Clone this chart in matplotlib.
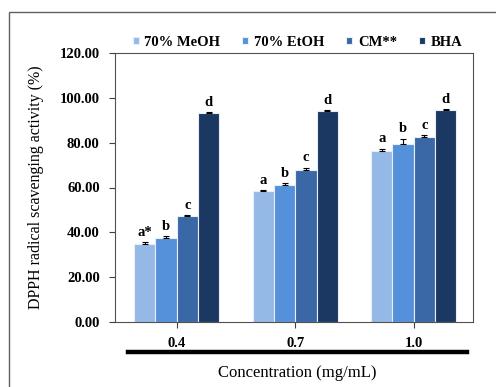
import numpy as np
import matplotlib
matplotlib.use("Agg")
import matplotlib.pyplot as plt
from matplotlib.lines import Line2D
from matplotlib.patches import Rectangle

concentrations = ["0.4", "0.7", "1.0"]
series = ["70% MeOH", "70% EtOH", "CM**", "BHA"]
meoh = [34.8, 58.5, 76.3]
etoh = [37.5, 61.2, 79.5]
cm = [47.3, 67.9, 82.6]
bha = [93.2, 94.2, 94.6]
meoh_err = [0.8, 0.4, 1.0]
etoh_err = [0.8, 0.8, 2.2]
cm_err = [0.4, 1.0, 0.8]
bha_err = [0.3, 0.3, 0.4]
letters = [["a*", "a", "a"], ["b", "b", "b"], ["c", "c", "c"], ["d", "d", "d"]]

values = [meoh, etoh, cm, bha]
errors = [meoh_err, etoh_err, cm_err, bha_err]
colors = ["#95b9e7", "#5590da", "#3a68a6", "#1b3863"]

plt.rcParams["font.family"] = ["Liberation Serif", "DejaVu Serif"]

fig = plt.figure(figsize=(4.96, 3.87), dpi=100)
ax = fig.add_axes([115 / 496, 1 - 322 / 387, 358 / 496, 269 / 387])

x = np.arange(len(concentrations))
w = 0.18
for i, (vals, errs) in enumerate(zip(values, errors)):
    pos = x + (i - 1.5) * w
    ax.bar(pos, vals, w, color=colors[i], edgecolor="#e8eef8", linewidth=0.8, label=series[i], zorder=2)
    ax.errorbar(pos, vals, yerr=[np.zeros(len(errs)), errs], fmt="none", ecolor="black",
                elinewidth=0.8, capsize=2.5, capthick=0.8, zorder=3)
    for p, v, e, t in zip(pos, vals, errs, letters[i]):
        ax.text(p, v + e + 1.5, t, ha="center", va="bottom", fontsize=10.5, fontweight="bold")

ax.set_xlim(-0.52, 2.5)
ax.set_ylim(0, 120)
ax.set_yticks(np.arange(0, 121, 20))
ax.set_yticklabels([f"{v:.2f}" for v in np.arange(0, 121, 20)], fontsize=10.5, fontweight="bold")
ax.set_xticks(x)
ax.set_xticklabels(concentrations, fontsize=10.5, fontweight="bold")
ax.tick_params(axis="both", length=4, width=0.8, color="#404040", pad=7)
for s in ax.spines.values():
    s.set_color("#505050")
    s.set_linewidth(0.8)

ax.set_ylabel("DPPH radical scavenging activity (%)", fontsize=11.5, labelpad=11)
fig.text(297 / 496, 1 - 373 / 387, "Concentration (mg/mL)", ha="center", va="center", fontsize=12)

fig.add_artist(Line2D([128 / 496, 467 / 496], [1 - 352 / 387] * 2, color="black", lw=3.2))
fig.add_artist(Rectangle((9 / 496, -0.1), 1.2, 1.1 - 12 / 387, transform=fig.transFigure,
                         fill=False, edgecolor="#606060", lw=1.0))

fig.legend(loc="center", bbox_to_anchor=(0.6, 1 - 42 / 387), ncol=4, frameon=False,
           prop={"weight": "bold", "size": 10.5}, handlelength=0.4, handleheight=0.4,
           handletextpad=0.4, columnspacing=1.5)

fig.savefig("out.png", dpi=100)
